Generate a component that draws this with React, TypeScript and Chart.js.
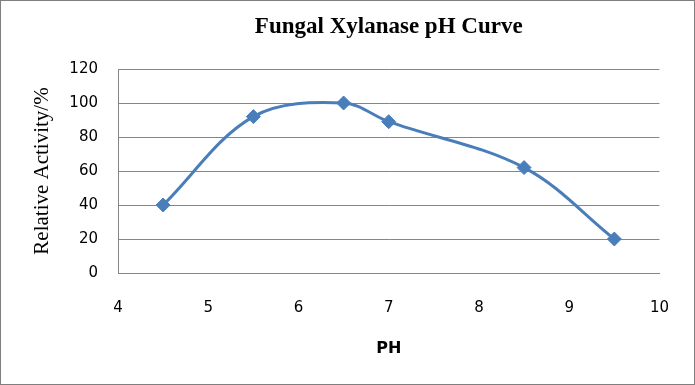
import { useEffect, useRef } from "react";
import { Chart, registerables } from "chart.js";

Chart.register(...registerables);

const chartTitle = "Fungal Xylanase pH Curve";
const xAxisTitle = "PH";
const yAxisTitle = "Relative Activity/%";
const phValues = [4.5, 5.5, 6.5, 7, 8.5, 9.5];
const relativeActivity = [40, 92, 100, 89, 62, 20];
const xTickValues = [4, 5, 6, 7, 8, 9, 10];
const yTickValues = [0, 20, 40, 60, 80, 100, 120];

const LINE_COLOR = "#4A7EBB";
const GRID_COLOR = "#868686";

const outerBorder = {
  id: "outerBorder",
  afterDraw(chart: any) {
    const { ctx, width, height } = chart;
    ctx.save();
    ctx.strokeStyle = "#7f7f7f";
    ctx.lineWidth = 1;
    ctx.strokeRect(0.5, 0.5, width - 1, height - 1);
    ctx.restore();
  },
};

export default function App() {
  const ref = useRef<HTMLCanvasElement | null>(null);

  useEffect(() => {
    document.body.style.margin = "0";
    const canvas = ref.current;
    if (!canvas) return;
    const chart = new Chart(canvas, {
      type: "line",
      data: {
        datasets: [
          {
            data: phValues.map((x, i) => ({ x, y: relativeActivity[i] })),
            borderColor: LINE_COLOR,
            backgroundColor: LINE_COLOR,
            borderWidth: 3,
            pointStyle: "rectRot",
            pointRadius: 7,
            pointBackgroundColor: LINE_COLOR,
            pointBorderColor: LINE_COLOR,
            pointBorderWidth: 1,
            tension: 0.35,
            fill: false,
          },
        ],
      },
      plugins: [outerBorder],
      options: {
        responsive: false,
        animation: false,
        events: [],
        layout: { padding: 0 },
        plugins: {
          legend: { display: false },
          tooltip: { enabled: false },
          title: {
            display: true,
            text: chartTitle,
            fullSize: false,
            color: "#000",
            font: { family: "'Liberation Serif', 'Times New Roman', serif", size: 23, weight: "bold", lineHeight: 1.2 },
            padding: { top: 13, bottom: 28.4 },
          },
        },
        scales: {
          x: {
            type: "linear",
            min: 4,
            max: 10,
            afterBuildTicks: (s: any) => {
              s.ticks = xTickValues.map((v) => ({ value: v }));
            },
            afterFit: (s: any) => {
              s.height = 112;
            },
            grid: { display: false, drawTicks: false },
            border: { display: true, color: GRID_COLOR, width: 1 },
            ticks: {
              color: "#000",
              padding: 26,
              maxRotation: 0,
              font: { family: "'DejaVu Sans', sans-serif", size: 15 },
            },
            title: {
              display: true,
              text: xAxisTitle,
              color: "#000",
              font: { family: "'DejaVu Sans', sans-serif", size: 16, weight: "bold", lineHeight: 1.2 },
              padding: { top: 0, bottom: 27 },
            },
          },
          y: {
            type: "linear",
            min: 0,
            max: 120,
            afterBuildTicks: (s: any) => {
              s.ticks = yTickValues.map((v) => ({ value: v }));
            },
            afterFit: (s: any) => {
              s.width = 118;
            },
            grid: { display: true, color: GRID_COLOR, lineWidth: 1, drawTicks: false },
            border: { display: true, color: GRID_COLOR, width: 1 },
            ticks: {
              color: "#000",
              padding: 20,
              font: { family: "'DejaVu Sans', sans-serif", size: 15 },
            },
            title: {
              display: true,
              text: yAxisTitle,
              color: "#000",
              font: { family: "'Liberation Serif', 'Times New Roman', serif", size: 21, lineHeight: 1.2 },
              padding: { top: 30, bottom: 0 },
            },
          },
        },
      },
    } as any);
    return () => chart.destroy();
  }, []);

  return (
    <div style={{ position: "absolute", left: 0, top: 0, width: 695, height: 385, background: "#fff" }}>
      <canvas ref={ref} width={695} height={385} style={{ display: "block" }} />
    </div>
  );
}
